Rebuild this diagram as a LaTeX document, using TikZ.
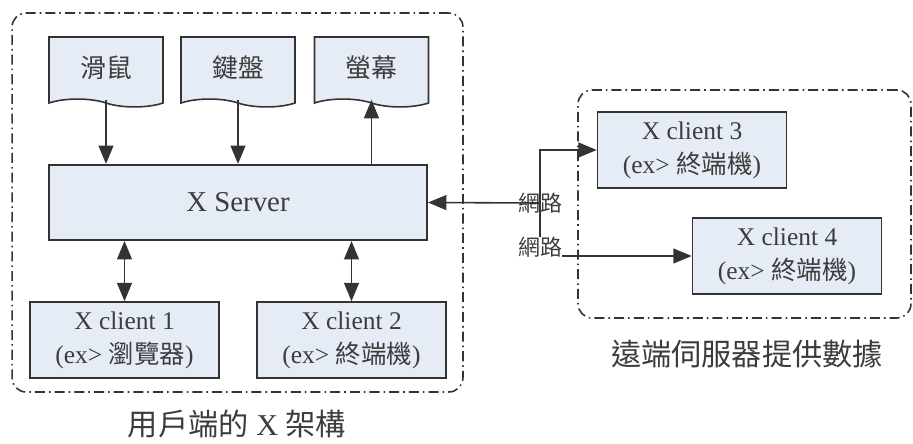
\documentclass[tikz,border=0pt]{standalone}
\usepackage{fontspec}
\setmainfont{Liberation Serif}
\newfontfamily\cjk{Noto Sans CJK TC}
\usetikzlibrary{arrows.meta,positioning,shapes.symbols}
\definecolor{cFill}{HTML}{E6ECF6}
\definecolor{cInk}{HTML}{333333}
\definecolor{cText}{HTML}{3C3C3C}
\newcommand{\zh}[1]{{\cjk #1}}
\tikzset{
  >={Triangle[length=10.5pt,width=8.5pt]},
  xbox/.style  ={draw=cInk,fill=cFill,line width=0.9pt,text=cText,
                 align=center,inner sep=0pt},
  cbox/.style  ={xbox,minimum width=3.78cm,minimum height=1.52cm,
                 font=\fontsize{14.5}{19.5}\selectfont},
  docbox/.style={tape,tape bend top=none,tape bend bottom=out and in,
                 tape bend height=4.5pt,draw=cInk,fill=cFill,line width=0.9pt,
                 minimum width=2.28cm,minimum height=1.4cm,inner sep=0pt,
                 text=cText,font=\cjk\fontsize{14.7}{16}\selectfont},
  group/.style ={draw=cInk,line width=0.9pt,rounded corners=8pt,
                 dash pattern=on 5.7pt off 2.3pt on 0.9pt off 2.3pt},
  ar/.style    ={->,line width=0.9pt,cInk},
  net/.style   ={font=\cjk\fontsize{12.5}{14}\selectfont,text=cText,inner sep=0pt},
  caption/.style={font=\fontsize{17.2}{20}\selectfont,text=cText,inner sep=0pt},
}
\begin{document}
\begin{tikzpicture}[x=0.02cm,y=-0.02cm]
\useasboundingbox (0,0) rectangle (913,443);
% the two groups
\node[group,minimum width=9.02cm,minimum height=7.58cm] (lgrp) at (237.5,202.5) {};
\node[group,minimum width=6.66cm,minimum height=4.56cm] (rgrp) at (744.5,204) {};
\node[caption] (lcap) at (237,424) {\zh{用戶端的} X \zh{架構}};
\node[caption] (rcap) at (747,354) {\zh{遠端伺服器提供數據}};
% devices
\node[docbox] (mouse)  at (106,68)   {滑鼠};
\node[docbox] (keyb)   at (238,68)   {鍵盤};
\node[docbox] (screen) at (371.5,68) {螢幕};
\node[xbox,minimum width=7.56cm,minimum height=1.5cm,line width=1.2pt,
      font=\fontsize{16.4}{18}\selectfont] (srv) at (238,202.5) {X Server};
% clients
\node[cbox] (c1) at (124.5,340) {X client 1\\(ex> \zh{瀏覽器})};
\node[cbox] (c2) at (351.5,340) {X client 2\\(ex> \zh{終端機})};
\node[cbox] (c3) at (692,150)   {X client 3\\(ex> \zh{終端機})};
\node[cbox] (c4) at (787,256)   {X client 4\\(ex> \zh{終端機})};
\node[net] (net1) at (540,203) {網路};
\node[net] (net2) at (540,247) {網路};
% connectors
\draw[ar] (mouse.south) -- (mouse.south |- srv.north);
\draw[ar] (keyb.south) -- (keyb.south |- srv.north);
\draw[ar] (screen.south |- srv.north) -- (screen.south);
\draw[ar,<->] (srv.south -| c1) -- (c1.north);
\draw[ar,<->] (srv.south -| c2) -- (c2.north);
\draw[ar] (net1.center) -- (srv.east);
\draw[ar] (net2.north) |- (c3.west);
\draw[ar] (net2.east |- c4.west) -- (c4.west);
\end{tikzpicture}
\end{document}
